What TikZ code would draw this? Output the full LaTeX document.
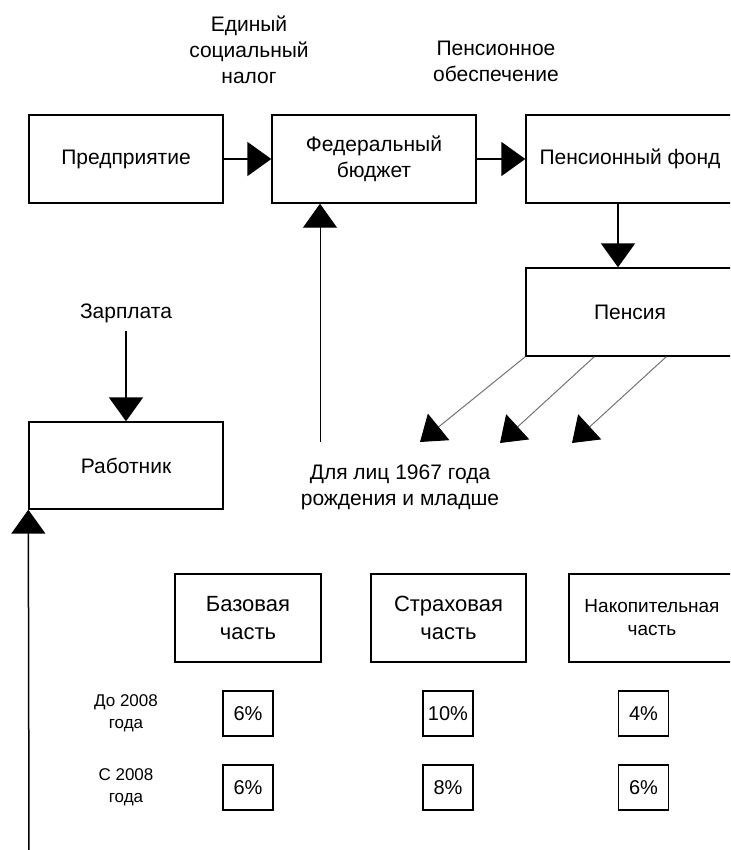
\documentclass[tikz,border=0pt]{standalone}
\usepackage{fontspec}
\setmainfont{Liberation Sans}
\usetikzlibrary{arrows.meta, positioning, calc}
\tikzset{
  flowbox/.style={draw=black, line width=1.4pt, fill=white, align=center,
    inner sep=0pt, font=\fontsize{21}{26}\selectfont},
  partbox/.style={flowbox, minimum height=88pt, font=\fontsize{22}{28}\selectfont},
  pctbox/.style={draw=black, line width=1.4pt, minimum width=50pt, minimum height=45pt,
    inner sep=0pt, font=\fontsize{20}{24}\selectfont},
  flowlabel/.style={align=center, inner sep=0pt, font=\fontsize{21}{26}\selectfont},
  rowlabel/.style={align=center, inner sep=0pt, font=\fontsize{17}{22}\selectfont},
  flowarrow/.style={-{Triangle[length=24pt,width=34pt]}, line width=2pt, black},
  thinarrow/.style={-{Triangle[length=24pt,width=34pt]}, line width=1pt, black},
  grayarrow/.style={-{Triangle[length=24pt,width=34pt,color=black]}, line width=1pt, black!55},
}

\begin{document}
\begin{tikzpicture}[x=1pt, y=-1pt]
  \useasboundingbox (0,0) rectangle (730,850);
  \clip (0,0) rectangle (730,850);
  % top row
  \node[flowlabel] (esn) at (249,50) {Единый\\социальный\\налог};
  \node[flowlabel] (obesp) at (496,61) {Пенсионное\\обеспечение};
  \node[flowbox, minimum width=194pt, minimum height=88pt] (predp) at (126,159) {Предприятие};
  \node[flowbox, minimum width=204pt, minimum height=88pt] (fedb) at (374,159) {Федеральный\\бюджет};
  \node[flowbox, minimum width=208pt, minimum height=88pt] (pfond) at (630,159) {Пенсионный фонд};
  \node[flowbox, minimum width=208pt, minimum height=88pt] (pensia) at (630,312) {Пенсия};
  \draw[flowarrow] (predp) -- (fedb);
  \draw[flowarrow] (fedb) -- (pfond);
  \draw[flowarrow] ($(pfond.south)+(-12,0)$) -- ($(pensia.north)+(-12,0)$);
  % worker
  \node[flowlabel] (zarpl) at (126,313) {Зарплата};
  \node[flowbox, minimum width=194pt, minimum height=87pt] (rabot) at (126,465.5) {Работник};
  \draw[flowarrow] ($(zarpl.south)+(0,8)$) -- (rabot.north);
  \coordinate (leftend) at (29,852);
  \draw[thinarrow, line width=1.5pt] (leftend) -- (rabot.south west);
  % pension split
  \node[flowlabel] (dlya) at (400,487) {Для лиц 1967 года\\рождения и младше};
  \coordinate (dlyatop) at (320,442);
  \draw[thinarrow] (dlyatop) -- (dlyatop |- fedb.south);
  \coordinate (baseend) at (420,442);
  \coordinate (strahend) at (500,443);
  \coordinate (nakopend) at (572,443);
  \draw[grayarrow] (pensia.south west) -- (baseend);
  \draw[grayarrow] ($(pensia.south west)+(69,0)$) -- (strahend);
  \draw[grayarrow] ($(pensia.south west)+(141,0)$) -- (nakopend);
  % parts
  \node[partbox, minimum width=146pt] (baz) at (248,618) {Базовая\\часть};
  \node[partbox, minimum width=155pt] (strah) at (448.5,618) {Страховая\\часть};
  \node[partbox, minimum width=166pt, font=\fontsize{19}{23}\selectfont] (nakop) at (652,618) {Накопительная\\часть};
  % rates
  \node[rowlabel] (do2008) at (126,713) {До 2008\\года};
  \node[rowlabel] (s2008) at (126,787) {С 2008\\года};
  \node[pctbox] (bazdo) at (248,713.5) {6\%};
  \node[pctbox] (strahdo) at (448,713.5) {10\%};
  \node[pctbox] (nakopdo) at (643.5,713.5) {4\%};
  \node[pctbox] (bazs) at (248,787.5) {6\%};
  \node[pctbox] (strahs) at (448,787.5) {8\%};
  \node[pctbox] (nakops) at (643.5,787.5) {6\%};
\end{tikzpicture}
\end{document}
